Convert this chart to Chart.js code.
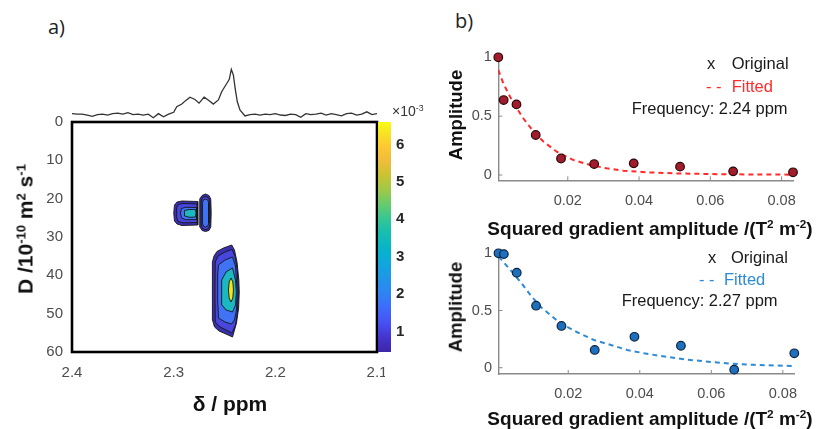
<!DOCTYPE html>
<html><head><meta charset="utf-8">
<script src="https://cdn.jsdelivr.net/npm/chart.js@4.4.1/dist/chart.umd.min.js"></script>
<style>
html,body{margin:0;padding:0;background:#fff;}
body{width:816px;height:429px;position:relative;overflow:hidden;font-family:"Liberation Sans",Arial,sans-serif;}
canvas{position:absolute;}
.t{position:absolute;white-space:nowrap;line-height:1;}
.c{transform:translate(-50%,-50%);}
.r{transform:translate(-50%,-50%) rotate(-90deg);}
.b{font-weight:bold;color:#111;}
sup{font-size:0.62em;vertical-align:0.55em;line-height:0;}
.lab{font-family:"Open Sans","Noto Sans",sans-serif;font-size:20px;color:#222;}
.lg{font-size:16.5px;color:#1a1a1a;}
</style></head>
<body>
<canvas id="spec" width="305" height="60" style="left:72px;top:60px"></canvas>
<canvas id="dosy" width="385" height="292" style="left:0px;top:110px"></canvas>
<canvas id="cbar" width="50" height="252" style="left:372px;top:110px"></canvas>
<canvas id="fit1" width="386" height="196" style="left:430px;top:44px"></canvas>
<canvas id="fit2" width="386" height="189" style="left:430px;top:240px"></canvas>

<div class="t lab" style="left:48px;top:17px">a)</div>
<div class="t lab" style="left:455px;top:11px">b)</div>

<div class="t b r" style="left:25px;top:229px;font-size:21px">D /10<sup>-10</sup> m<sup>2</sup> s<sup>-1</sup></div>
<div class="t b c" style="left:230px;top:403px;font-size:21px">δ / ppm</div>
<div class="t" style="left:392px;top:104px;font-size:14px;color:#333">×10<sup>-3</sup></div>

<div class="t b r" style="left:456px;top:115px;font-size:18.5px">Amplitude</div>
<div class="t b c" style="left:650px;top:228px;font-size:19px">Squared gradient amplitude /(T<sup>2</sup> m<sup>-2</sup>)</div>
<div class="t lg" style="left:707px;top:55px">x</div>
<div class="t lg" style="left:731.7px;top:55px">Original</div>
<div class="t lg" style="left:706px;top:78px;color:#ff2a2a">- -</div>
<div class="t lg" style="left:731.7px;top:78px;color:#ff2a2a">Fitted</div>
<div class="t lg" style="left:631.7px;top:100px">Frequency: 2.24 ppm</div>

<div class="t b r" style="left:456px;top:307px;font-size:18.5px">Amplitude</div>
<div class="t b c" style="left:650px;top:418px;font-size:19px">Squared gradient amplitude /(T<sup>2</sup> m<sup>-2</sup>)</div>
<div class="t lg" style="left:708px;top:249px">x</div>
<div class="t lg" style="left:731px;top:249px">Original</div>
<div class="t lg" style="left:699px;top:271px;color:#2d8bd6">- -</div>
<div class="t lg" style="left:724px;top:271px;color:#2d8bd6">Fitted</div>
<div class="t lg" style="left:621.7px;top:292px">Frequency: 2.27 ppm</div>

<script>
// ================= DATA =================
// 1D projection spectrum (chemical shift / ppm, relative intensity)
const specPpm = [2.400,2.395,2.390,2.385,2.380,2.375,2.370,2.365,2.360,2.355,2.350,2.345,2.340,2.335,2.330,2.325,2.320,2.315,2.310,2.305,
  2.300,2.297,2.292,2.288,2.284,2.279,2.275,2.270,2.266,2.261,2.256,2.2528,2.2478,2.2453,2.2433,2.2413,2.2393,2.2374,2.2348,2.2298,
  2.225,2.220,2.215,2.210,2.205,2.200,2.195,2.190,2.185,2.180,2.175,2.170,2.165,2.160,2.155,2.150,2.145,2.140,2.135,2.130,2.125,2.120,2.115,2.110,2.105,2.100];
const specInt = [0.03,0.02,0.02,0.00,-0.03,0.01,0.02,0.00,0.03,0.04,0.02,0.05,0.01,0.02,0.00,0.02,-0.06,0.03,-0.04,0.02,
  0.06,0.18,0.24,0.32,0.39,0.34,0.26,0.39,0.33,0.24,0.33,0.51,0.69,0.78,1.00,0.875,0.55,0.29,0.11,-0.02,
  0.01,0.02,0.00,0.02,0.01,0.03,0.00,-0.01,0.02,0.01,-0.05,0.03,0.01,0.02,0.04,0.00,0.03,0.01,-0.02,0.03,0.04,0.00,0.02,0.07,0.01,0.03];

// DOSY contour outlines, [delta ppm, D (1e-10 m^2/s)], outer -> inner level
const peakA_lvl1 = [[2.2765,20.74],[2.2761,23.74],[2.2765,26.87],[2.2918,27.00],[2.2967,26.61],[2.2992,25.83],[2.2999,23.74],[2.2992,21.65],[2.2967,20.87],[2.2918,20.61]];
const peakA_lvl2 = [[2.2771,21.39],[2.2768,23.74],[2.2771,26.22],[2.2908,26.30],[2.2953,25.96],[2.2969,25.04],[2.2972,23.74],[2.2969,22.30],[2.2953,21.52],[2.2908,21.26]];
const peakA_lvl3 = [[2.2774,22.30],[2.2771,23.74],[2.2774,25.43],[2.2879,25.51],[2.2923,25.04],[2.2933,23.74],[2.2923,22.57],[2.2879,22.25]];
const peakA_lvl4 = [[2.2785,22.83],[2.2780,23.74],[2.2785,24.78],[2.2849,24.86],[2.2889,24.52],[2.2898,23.74],[2.2889,23.09],[2.2849,22.83]];
const peakB_lvl1 = [[2.2687,18.78],[2.2653,19.17],[2.2635,20.09],[2.2631,23.74],[2.2635,27.39],[2.2653,28.30],[2.2687,28.57],[2.2721,28.30],[2.2741,27.39],[2.2746,23.74],[2.2741,20.09],[2.2721,19.17]];
const peakB_lvl2 = [[2.2687,19.43],[2.2657,19.77],[2.2645,20.61],[2.2641,23.74],[2.2645,26.87],[2.2657,27.78],[2.2687,28.04],[2.2716,27.78],[2.2728,26.87],[2.2731,23.74],[2.2728,20.61],[2.2716,19.77]];
const peakB_lvl3 = [[2.2687,20.09],[2.2664,20.35],[2.2655,21.13],[2.2653,23.74],[2.2655,26.35],[2.2664,27.13],[2.2687,27.39],[2.2709,27.13],[2.2716,26.35],[2.2718,23.74],[2.2716,21.13],[2.2709,20.35]];
const peakC_lvl1 = [[2.2429,32.09],[2.2402,33.39],[2.2377,36.52],[2.2359,41.22],[2.2355,44.35],[2.2361,48.52],[2.2382,52.43],[2.2421,56.09],[2.2475,55.43],[2.2554,54.52],[2.2598,53.48],[2.2618,51.65],[2.2620,44.35],[2.2618,36.52],[2.2603,34.96],[2.2574,33.78],[2.2510,32.87]];
const peakC_lvl2 = [[2.2426,33.26],[2.2397,34.96],[2.2374,38.61],[2.2364,44.35],[2.2372,49.57],[2.2392,52.96],[2.2426,55.04],[2.2485,54.26],[2.2544,53.48],[2.2591,52.17],[2.2594,44.35],[2.2591,36.52],[2.2564,34.96],[2.2495,33.91]];
const peakC_lvl3 = [[2.2421,35.22],[2.2392,37.57],[2.2375,44.35],[2.2382,49.04],[2.2402,51.65],[2.2431,52.70],[2.2495,52.17],[2.2559,51.13],[2.2567,46.43],[2.2567,39.91],[2.2559,37.30],[2.2495,36.00]];
const peakC_lvl4 = [[2.2421,38.09],[2.2392,41.22],[2.2384,44.35],[2.2392,47.74],[2.2421,49.57],[2.2485,49.04],[2.2525,47.74],[2.2528,44.35],[2.2528,41.22],[2.2485,39.13]];
const peakC_lvl5 = [[2.2436,40.70],[2.2418,41.74],[2.2412,43.83],[2.2418,45.91],[2.2436,46.96],[2.2454,45.91],[2.2461,43.83],[2.2454,41.74]];

// colour bar range (x 1e-3)
const cbRange = [0.45, 6.6];

// decay data
const gradSq  = [0.0005,0.0020,0.0056,0.0110,0.0181,0.0274,0.0385,0.0515,0.0664,0.0832];
const amp224  = [1.00,0.637,0.600,0.340,0.140,0.093,0.099,0.071,0.031,0.023];
const amp227  = [1.00,0.993,0.830,0.542,0.365,0.155,0.270,0.192,-0.017,0.126];
const fit224X = [0.0005,0.0019,0.0038,0.0057,0.0075,0.0104,0.0132,0.0169,0.0216,0.0263,0.0309,0.0356,0.0422,0.0500,0.0600,0.0700,0.0832];
const fit224Y = [0.892,0.779,0.665,0.567,0.482,0.368,0.283,0.198,0.127,0.085,0.057,0.037,0.023,0.014,0.008,0.005,0.003];
const fit227X = [0.0005,0.0010,0.0038,0.0066,0.0094,0.0122,0.0150,0.0178,0.0225,0.0272,0.0319,0.0365,0.0412,0.0459,0.0506,0.0543,0.0600,0.0655,0.0720,0.0832];
const fit227Y = [0.970,0.956,0.855,0.752,0.636,0.534,0.461,0.388,0.310,0.242,0.199,0.155,0.126,0.102,0.082,0.067,0.050,0.035,0.025,0.015];

// tick labels
const ppmTicks  = [2.4,2.3,2.2,2.1];
const dTicks    = [0,10,20,30,40,50,60];
const cbTicks   = [1,2,3,4,5,6];
const gradTicks = [0.02,0.04,0.06,0.08];
const ampTicks  = [0,0.5,1];

// ================= STYLE =================
const levelColors = ['#3b2fad','#4747df','#3f72f4','#1bb8c2','#f7e51a'];
const parula = [[0,'#3e26a8'],[0.06,'#4433cc'],[0.13,'#4852f4'],[0.2,'#3d6ef9'],[0.27,'#2b88f0'],[0.33,'#1e98e6'],[0.39,'#10a8db'],
  [0.45,'#07b4c8'],[0.52,'#18bdb0'],[0.58,'#36c693'],[0.64,'#65cb6e'],[0.7,'#9bc94c'],[0.77,'#cac331'],[0.83,'#efbd3c'],
  [0.89,'#fec633'],[0.95,'#f7e223'],[1,'#f9fb14']];

Chart.defaults.animation = false;
Chart.defaults.font.family = "'Liberation Sans', Arial, sans-serif";
Chart.defaults.color = '#4d4d4d';
Chart.defaults.plugins.legend.display = false;
Chart.defaults.plugins.tooltip.enabled = false;

const fixedTicks = arr => (s => { s.ticks = arr.map(v => ({value: v})); });
const noPad = s => { s.paddingLeft = 0; s.paddingRight = 0; s.paddingTop = 0; s.paddingBottom = 0; };
const fitH = h => (s => { s.height = h; noPad(s); });
const fitW = w => (s => { s.width = w; noPad(s); });
const boxPlugin = {id:'box', afterDatasetsDraw(ch, a, o){ const c = ch.ctx, r = ch.chartArea;
  c.save(); c.lineWidth = o.width; c.strokeStyle = o.color;
  c.strokeRect(r.left, r.top, r.right - r.left, r.bottom - r.top); c.restore(); }};
const inTicks = {id:'inTicks', beforeDatasetsDraw(ch, a, o){ const {ctx, chartArea: r, scales: {x, y}} = ch;
  ctx.save(); ctx.strokeStyle = o.color; ctx.lineWidth = 1; ctx.beginPath();
  x.ticks.forEach(t => { const p = x.getPixelForValue(t.value); ctx.moveTo(p, r.bottom); ctx.lineTo(p, r.bottom - o.len); });
  y.ticks.forEach(t => { const p = y.getPixelForValue(t.value); ctx.moveTo(r.left, p); ctx.lineTo(r.left + o.len, p); });
  ctx.stroke(); ctx.restore(); }};

// ---------- 1D spectrum ----------
new Chart(document.getElementById('spec'), {
  type: 'line',
  data: { datasets: [{ data: specPpm.map((x, i) => ({x, y: specInt[i]})), borderColor: '#333', borderWidth: 1.3, pointRadius: 0, tension: 0 }] },
  options: { responsive: false, layout: {padding: 0},
    scales: { x: {type: 'linear', reverse: true, min: 2.1, max: 2.4, display: false},
              y: {min: -0.109, max: 1.2035, display: false} } }
});

// ---------- DOSY contour ----------
const levels = [
  [peakA_lvl1,0],[peakA_lvl2,1],[peakA_lvl3,2],[peakA_lvl4,3],
  [peakB_lvl1,0],[peakB_lvl2,1],[peakB_lvl3,2],
  [peakC_lvl1,0],[peakC_lvl2,1],[peakC_lvl3,2],[peakC_lvl4,3],[peakC_lvl5,4]
];
new Chart(document.getElementById('dosy'), {
  type: 'line',
  data: { datasets: levels.map(([pts, k]) => ({
    data: pts.concat([pts[0]]).map(([x, y]) => ({x, y})),
    fill: 'shape', backgroundColor: levelColors[k], borderColor: '#151515', borderWidth: 0.9,
    pointRadius: 0, tension: 0, order: 10 - k })) },
  options: { responsive: false, layout: {padding: {top: 12, right: 8, left: 0, bottom: 0}},
    scales: {
      x: {type: 'linear', reverse: true, min: 2.1, max: 2.4, afterBuildTicks: fixedTicks(ppmTicks),
          ticks: {callback: v => v.toFixed(1), padding: 12, font: {size: 15}, color: '#4d4d4d', maxRotation: 0},
          grid: {display: false, drawTicks: false}, border: {display: false}, afterFit: fitH(50)},
      y: {type: 'linear', reverse: true, min: 0, max: 60, afterBuildTicks: fixedTicks(dTicks),
          ticks: {padding: 9, font: {size: 15}, color: '#4d4d4d'},
          grid: {display: false, drawTicks: false}, border: {display: false}, afterFit: fitW(72)}
    },
    plugins: { box: {width: 2.6, color: '#000'} } },
  plugins: [boxPlugin]
});

// ---------- colour bar ----------
new Chart(document.getElementById('cbar'), {
  type: 'bar',
  data: { labels: [''], datasets: [{ data: [cbRange], borderWidth: 0, barPercentage: 1, categoryPercentage: 1,
    backgroundColor: c => { const a = c.chart.chartArea; if (!a) return parula[0][1];
      const g = c.chart.ctx.createLinearGradient(0, a.bottom, 0, a.top);
      parula.forEach(([s, col]) => g.addColorStop(s, col)); return g; } }] },
  options: { responsive: false, layout: {padding: {left: 6, top: 12, bottom: 10, right: 0}},
    scales: { x: {display: false},
      y: {position: 'right', min: cbRange[0], max: cbRange[1], afterBuildTicks: fixedTicks(cbTicks),
          ticks: {padding: 5, font: {size: 15, weight: 'bold'}, color: '#262626'},
          grid: {display: false, drawTicks: false}, border: {display: false}, afterFit: fitW(31)} } }
});

// ---------- decay fits ----------
function fitChart(id, amps, fx, fy, ptFill, ptEdge, lineCol, ymin, opt) {
  return new Chart(document.getElementById(id), {
    type: 'scatter',
    data: { datasets: [
      { data: gradSq.map((x, i) => ({x, y: amps[i]})), pointRadius: 4.3, pointBackgroundColor: ptFill,
        pointBorderColor: ptEdge, pointBorderWidth: 1.2, clip: false, order: 0 },
      { data: fx.map((x, i) => ({x, y: fy[i]})), showLine: true, pointRadius: 0, borderColor: lineCol,
        borderWidth: 2, borderDash: [5, 4], order: 1 } ] },
    options: { responsive: false, layout: {padding: {top: opt.top, right: opt.right, left: 0, bottom: 0}},
      scales: {
        x: {type: 'linear', min: 0.0005, max: 0.0832, afterBuildTicks: fixedTicks(gradTicks),
            ticks: {callback: v => String(v), padding: opt.xpad, font: {size: 14.5}, color: '#4d4d4d', maxRotation: 0},
            grid: {display: false, drawTicks: false}, border: {display: true, color: '#8a8a8a', width: 1.4},
            afterFit: fitH(opt.xh)},
        y: {type: 'linear', min: ymin, max: 1, afterBuildTicks: fixedTicks(ampTicks),
            ticks: {callback: v => String(v), padding: 6.5, font: {size: 14.5}, color: '#4d4d4d'},
            grid: {display: false, drawTicks: false}, border: {display: true, color: '#8a8a8a', width: 1.4},
            afterFit: fitW(opt.yw)} },
      plugins: { inTicks: {color: '#8a8a8a', len: 4} } },
    plugins: [inTicks]
  });
}
fitChart('fit1', amp224, fit224X, fit224Y, '#a11c2c', '#2a0808', '#ff2a2a', -0.045, {top: 13.3, right: 23, xh: 59.7, yw: 68.3, xpad: 12});
fitChart('fit2', amp227, fit227X, fit227Y, '#1f6fbf', '#0b2540', '#2d8bd6', -0.055, {top: 13.3, right: 21.7, xh: 55, yw: 68.5, xpad: 11});
</script>
</body></html>
